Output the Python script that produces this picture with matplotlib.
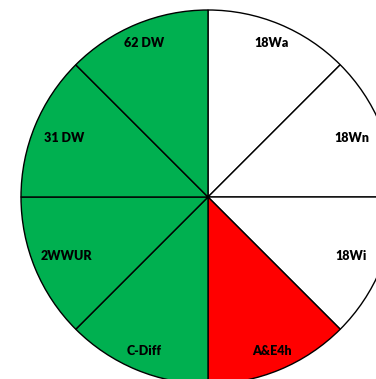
import matplotlib.pyplot as plt
import numpy as np

# eight equal segments, clockwise from 12 o'clock
labels = ['18Wa', '18Wn', '18Wi', 'A&E4h', 'C-Diff', '2WWUR', '31 DW', '62 DW']
values = [1, 1, 1, 1, 1, 1, 1, 1]
status = ['white', 'white', 'white', 'red', 'green', 'green', 'green', 'green']

palette = {'white': '#FFFFFF', 'red': '#FF0000', 'green': '#00B050'}
colors = [palette[s] for s in status]

fig = plt.figure(figsize=(3.76, 3.79), dpi=100)
ax = fig.add_axes([0, 0, 1, 1])

# pixel-like coordinates so the pie can run past the edges
cx, cy, r = 208, 379 - 197, 187
wedges, _ = ax.pie(values, colors=colors, startangle=90, counterclock=False,
                   radius=r, center=(cx, cy),
                   wedgeprops=dict(edgecolor='black', linewidth=1.0))

# labels sit nearer the rim on the upright segments
dist = [0.89, 0.83, 0.83, 0.89, 0.89, 0.82, 0.83, 0.89]
for w, lab, d in zip(wedges, labels, dist):
    ang = np.deg2rad((w.theta1 + w.theta2) / 2)
    ax.text(cx + d * r * np.cos(ang), cy + d * r * np.sin(ang), lab,
            ha='center', va='center', fontsize=9, fontweight='heavy',
            family='Lato', color='black')

ax.set_xlim(0, 376)
ax.set_ylim(0, 379)
ax.set_aspect('equal')
ax.axis('off')

plt.savefig('out.png', dpi=100)
